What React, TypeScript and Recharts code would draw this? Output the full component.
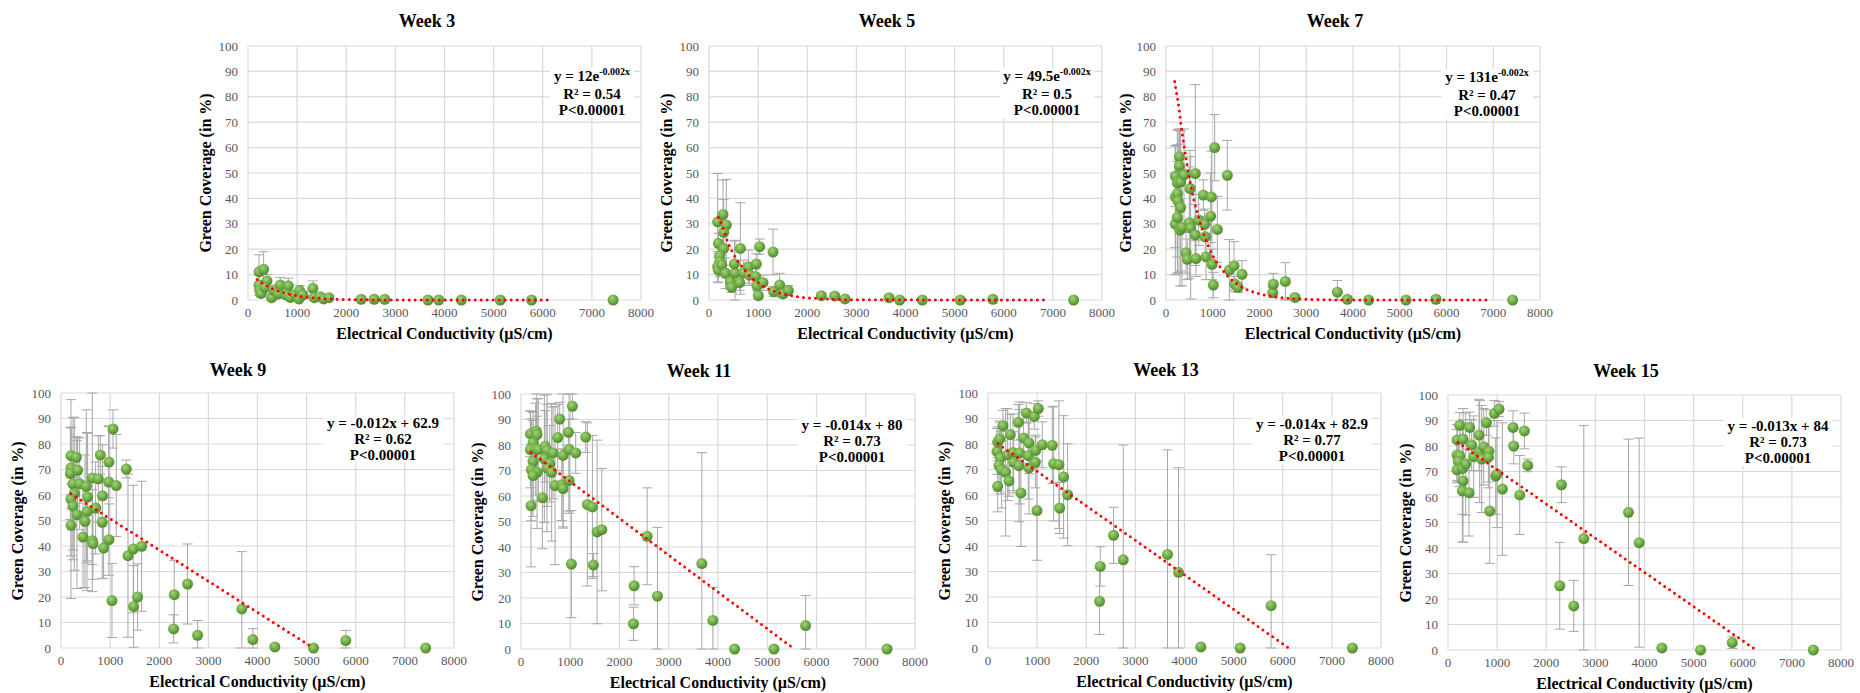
import React from 'react'
import { ScatterChart, Scatter, XAxis, YAxis, CartesianGrid, ErrorBar } from 'recharts'

// EC in µS/cm, green coverage in %, error = ± %
const w3x = [224, 318, 386, 224, 237, 264, 346, 481, 522, 657, 616, 820, 779, 860, 969, 1050, 1037, 1118, 1321, 1348, 1470, 1538, 1646, 2304, 2568, 2785, 3665, 3882, 4343, 5135, 5772, 7432]
const w3y = [11.1, 12.1, 7.5, 5.9, 3.9, 2.6, 5.0, 0.9, 3.9, 5.9, 2.4, 5.6, 2.0, 1.0, 2.2, 3.7, 0.4, 2.0, 4.6, 0.9, 1.3, 0.4, 0.9, 0.3, 0.3, 0.3, 0, 0, 0, 0, 0, 0]
const w3e = [6.7, 6.9, 2.5, 4, 2, 1.5, 2.5, 1, 1.5, 3, 1.5, 3, 1.5, 1, 1.5, 2, 0.5, 1.5, 2.9, 0.8, 1, 0.5, 0.8, 0.3, 0.3, 0.3, 0, 0, 0, 0, 0, 0]

const w5x = [176, 285, 353, 299, 190, 299, 217, 217, 176, 190, 258, 339, 434, 461, 529, 516, 638, 624, 706, 801, 828, 963, 950, 977, 1004, 1031, 1099, 1303, 1316, 1438, 1506, 1615, 2286, 2558, 2768, 3664, 3881, 4342, 5115, 5780, 7422]
const w5y = [30.8, 33.7, 29.5, 26.6, 22.3, 20.3, 17.3, 15.1, 13.1, 11.8, 13.8, 10.5, 7.2, 5.0, 10.7, 14.2, 20.3, 6.8, 10.7, 13.1, 9.8, 14.2, 9.2, 5.5, 1.7, 21.0, 6.8, 18.9, 3.3, 5.9, 2.4, 3.7, 1.7, 1.6, 0.4, 0.9, 0, 0, 0, 0.3, 0]
const w5e = [19, 13.5, 18, 13, 4, 8, 5, 6, 6, 5, 4, 6, 3, 2, 12.8, 9, 18, 3, 5, 6.5, 4, 4, 3, 2, 1, 3, 3, 9, 2, 4.6, 1.5, 2, 1, 1, 0.5, 0.8, 0, 0, 0, 0.2, 0]

const w7x = [200, 200, 200, 242, 242, 257, 242, 285, 285, 314, 314, 299, 342, 385, 428, 456, 513, 499, 528, 627, 627, 642, 699, 799, 827, 841, 856, 970, 955, 984, 1041, 1012, 1098, 1312, 1355, 1455, 1469, 1540, 1626, 2282, 2296, 2553, 2759, 3665, 3879, 4335, 5134, 5775, 7415]
const w7y = [48.8, 40.6, 29.9, 46.1, 41.9, 38.9, 32.5, 56.4, 52.8, 46.5, 36.4, 27.5, 28.6, 49.3, 18.6, 16.0, 43.9, 30.4, 28.4, 49.8, 25.6, 16.3, 31.5, 41.3, 29.8, 24.9, 17.0, 40.6, 33.0, 14.0, 60.0, 5.9, 27.8, 49.1, 11.8, 13.5, 6.3, 5.0, 10.1, 2.9, 6.2, 7.3, 1.0, 3.1, 0.3, 0, 0, 0.3, 0]
const w7e = [12, 20, 20, 15, 25, 28, 22, 11, 14, 20, 25, 22, 23, 18, 8, 8, 15, 22, 28, 35, 12, 7, 10, 6, 6, 8, 9, 18, 17, 6, 13, 5, 13, 13.7, 12, 9.5, 3, 2, 5.4, 2, 4.3, 7.4, 1, 4.6, 0.5, 0, 0, 1.2, 0]

const w9x = [203, 312, 203, 190, 244, 339, 380, 515, 271, 203, 244, 325, 203, 542, 529, 488, 447, 637, 759, 705, 637, 651, 800, 976, 969, 847, 840, 868, 976, 1058, 1125, 1037, 1329, 1363, 1471, 1478, 1559, 1641, 2305, 2292, 2576, 2780, 3681, 3905, 4353, 5139, 5797, 7424]
const w9y = [75.4, 74.8, 70.6, 68.4, 64.4, 69.7, 64.4, 63.4, 60.5, 58.4, 55.6, 52.3, 48.1, 59.2, 53.5, 49.7, 43.5, 66.7, 66.3, 54.9, 42.1, 40.9, 75.7, 72.9, 65.1, 59.7, 49.3, 39.2, 42.5, 85.9, 63.7, 18.6, 70.2, 36.2, 38.8, 16.3, 20.0, 39.9, 20.9, 7.5, 25.1, 5.0, 15.3, 3.3, 0.4, 0, 2.9, 0]
const w9e = [11, 8, 16, 18, 26, 13, 18, 30, 30, 39, 21, 29, 12, 25, 31, 26, 20, 34, 17, 18, 20, 14, 7.5, 14, 22, 20, 22, 12, 14, 7.5, 20, 14.5, 3.5, 32, 25, 16, 13, 25.5, 13.5, 5.5, 15.7, 5.8, 22.5, 4.3, 0, 0, 4, 0]

const w11x = [190, 312, 325, 244, 190, 298, 352, 488, 528, 650, 474, 244, 583, 528, 210, 325, 244, 623, 691, 827, 854, 203, 434, 786, 745, 962, 1043, 854, 976, 1111, 976, 1023, 1314, 1348, 1450, 1470, 1545, 1640, 2297, 2283, 2561, 2771, 3672, 3896, 4336, 5136, 5779, 7432]
const w11y = [84.4, 85.4, 84.1, 80.8, 78.2, 78.4, 78.2, 79.5, 77.9, 76.9, 74.6, 73.6, 72.7, 71.0, 70.3, 69.3, 68.0, 69.3, 64.1, 64.4, 62.9, 56.2, 59.3, 90.2, 82.9, 85.0, 95.2, 75.9, 78.2, 76.9, 66.1, 33.3, 83.1, 56.7, 55.7, 32.9, 45.9, 46.8, 24.8, 9.9, 44.2, 20.7, 33.5, 11.2, 0, 0, 9.2, 0]
const w11e = [9, 15, 14, 12, 15, 18, 20, 14, 22, 18, 25, 16, 15, 25, 20, 22, 16, 27, 31, 14, 15.5, 24, 20, 6.5, 13, 5, 5, 28, 25, 8, 12, 21, 6, 32, 28, 4.5, 36, 24, 7.5, 6.5, 19, 27, 43.5, 13, 0, 0, 11.8, 0]

const w13x = [197, 183, 197, 237, 305, 251, 224, 278, 359, 400, 454, 427, 508, 522, 631, 644, 617, 671, 725, 834, 820, 834, 780, 942, 1024, 969, 963, 997, 1105, 1308, 1336, 1444, 1539, 1458, 1620, 2285, 2271, 2556, 2753, 3654, 3878, 4332, 5132, 5763, 7417]
const w13y = [63.4, 77.1, 80.7, 82.0, 87.2, 74.5, 71.5, 69.9, 68.9, 75.8, 83.7, 65.5, 76.7, 72.8, 71.5, 76.5, 88.5, 60.8, 82.4, 80.4, 75.4, 70.6, 92.2, 90.8, 93.9, 77.5, 72.8, 53.9, 79.7, 79.5, 72.3, 71.9, 67.1, 54.9, 60.1, 32.0, 18.3, 44.2, 34.6, 36.7, 29.7, 0.4, 0, 16.6, 0]
const w13e = [10, 9, 6, 7, 6, 14, 10, 15, 25, 18, 8, 6, 15, 12, 22, 20, 7, 21, 10, 12, 17, 18, 4, 5, 3, 6, 10, 19.5, 9, 15, 22.5, 25, 24, 10, 20, 7.7, 13, 11, 45, 41, 41, 0, 0, 20, 0]

const w15x = [183, 238, 306, 183, 238, 211, 183, 292, 360, 306, 292, 428, 441, 482, 523, 632, 645, 727, 686, 781, 835, 822, 849, 944, 1039, 971, 998, 1107, 1324, 1338, 1555, 1460, 1623, 2309, 2275, 2560, 2764, 3674, 3891, 4353, 5141, 5786, 7436]
const w15y = [82.4, 88.1, 82.7, 76.5, 76.1, 73.9, 70.6, 71.2, 72.9, 66.3, 62.4, 61.7, 87.3, 80.4, 75.8, 84.3, 77.8, 79.7, 74.9, 89.2, 77.9, 75.6, 54.5, 92.8, 94.5, 68.2, 69.0, 63.1, 87.3, 80.0, 85.9, 60.8, 72.4, 64.8, 25.2, 17.3, 43.7, 54.0, 42.1, 0.8, 0, 2.9, 0]
const w15e = [6, 5, 12, 10, 12, 8, 5, 18, 20, 24, 20, 17, 6, 10, 16, 14, 20, 15, 21, 5, 12, 12, 20.5, 5, 3, 15, 21, 26, 6.5, 7, 7, 15.5, 2.5, 7, 17, 10, 44.3, 28.7, 41, 0, 0, 2.3, 0]

// trend lines, points
const t3x = [184, 300, 400, 500, 700, 900, 1200, 1500, 2000, 3000, 6200]
const t3y = [8.1, 6.5, 5.4, 4.4, 3.0, 2.0, 1.1, 0.6, 0.2, 0, 0]
const t5x = [190, 250, 300, 350, 400, 500, 600, 700, 800, 1000, 1200, 1500, 1800, 2200, 3000, 6900]
const t5y = [32.5, 30, 27.5, 24.5, 22, 18, 15, 12.5, 10, 6.8, 4.5, 2.5, 1.3, 0.6, 0.1, 0]
const t7x = [185, 220, 250, 280, 320, 360, 400, 450, 500, 600, 700, 800, 900, 1000, 1200, 1400, 1600, 1800, 2000, 2400, 3000, 4000, 6930]
const t7y = [86, 82, 79, 75, 69, 64, 59, 53.5, 48, 39, 32.5, 26.5, 21.5, 17.5, 12, 8, 5.3, 3.6, 2.4, 1.1, 0.3, 0, 0]
const t9x = [200, 5140]
const t9y = [60.5, 0]
const t11x = [200, 5550]
const t11y = [77.2, 0]
const t13x = [200, 6120]
const t13y = [80.1, 0]
const t15x = [200, 6270]
const t15y = [81.4, 0]

const ecTicks = [0, 1000, 2000, 3000, 4000, 5000, 6000, 7000, 8000]
const gcTicks = [0, 10, 20, 30, 40, 50, 60, 70, 80, 90, 100]

const FONT = "'Liberation Serif', 'DejaVu Serif', 'Times New Roman', Times, serif"

const toPoints = (xs: number[], ys: number[], es: number[]) =>
  xs.map((x, i) => ({ x, y: ys[i], err: [Math.min(es[i], ys[i]), Math.min(es[i], 100 - ys[i])] }))
const toLine = (xs: number[], ys: number[]) => xs.map((x, i) => ({ x, y: ys[i] }))

type Panel = {
  id: string
  title: string
  pts: { x: number; y: number; err: number[] }[]
  trend: { x: number; y: number }[]
  curve: 'monotoneX' | 'linear'
  eq: string
  sup?: string
  r2: string
  plot: [number, number, number, number] // left, top, right, bottom
  titleAt: [number, number]
  yTitleX: number
  eqAt: [number, number]
}

const panels: Panel[] = [
  { id: 'w3', title: 'Week 3', pts: toPoints(w3x, w3y, w3e), trend: toLine(t3x, t3y), curve: 'monotoneX', eq: 'y = 12e', sup: '-0.002x', r2: '0.54', plot: [248, 46, 641, 300], titleAt: [427, 21], yTitleX: 206, eqAt: [592, 77] },
  { id: 'w5', title: 'Week 5', pts: toPoints(w5x, w5y, w5e), trend: toLine(t5x, t5y), curve: 'monotoneX', eq: 'y = 49.5e', sup: '-0.002x', r2: '0.5', plot: [709, 46, 1102, 300], titleAt: [887, 21], yTitleX: 667, eqAt: [1047, 77] },
  { id: 'w7', title: 'Week 7', pts: toPoints(w7x, w7y, w7e), trend: toLine(t7x, t7y), curve: 'monotoneX', eq: 'y = 131e', sup: '-0.002x', r2: '0.47', plot: [1166, 46, 1540, 300], titleAt: [1335, 21], yTitleX: 1126, eqAt: [1487, 78] },
  { id: 'w9', title: 'Week 9', pts: toPoints(w9x, w9y, w9e), trend: toLine(t9x, t9y), curve: 'linear', eq: 'y = -0.012x + 62.9', r2: '0.62', plot: [61, 393, 454, 648], titleAt: [238, 370], yTitleX: 18, eqAt: [383, 423] },
  { id: 'w11', title: 'Week 11', pts: toPoints(w11x, w11y, w11e), trend: toLine(t11x, t11y), curve: 'linear', eq: 'y = -0.014x + 80', r2: '0.73', plot: [521, 394, 915, 649], titleAt: [699, 371], yTitleX: 478, eqAt: [852, 425] },
  { id: 'w13', title: 'Week 13', pts: toPoints(w13x, w13y, w13e), trend: toLine(t13x, t13y), curve: 'linear', eq: 'y = -0.014x + 82.9', r2: '0.77', plot: [988, 393, 1381, 648], titleAt: [1166, 370], yTitleX: 945, eqAt: [1312, 424] },
  { id: 'w15', title: 'Week 15', pts: toPoints(w15x, w15y, w15e), trend: toLine(t15x, t15y), curve: 'linear', eq: 'y = -0.013x + 84', r2: '0.73', plot: [1448, 395, 1841, 650], titleAt: [1626, 371], yTitleX: 1406, eqAt: [1778, 426] },
]

const abs = (x: number, y: number): React.CSSProperties => ({
  position: 'absolute',
  left: x,
  top: y,
  transform: 'translate(-50%, -50%)',
  whiteSpace: 'nowrap',
  fontFamily: FONT,
  fontWeight: 'bold',
  color: '#000',
})

function Week({ p }: { p: Panel }) {
  const [l, t, r, b] = p.plot
  const w = r - l
  const h = b - t
  const tick = { fontSize: 13, fill: '#595959', fontFamily: FONT }
  const dot = (props: any) => <circle cx={props.cx} cy={props.cy} r={5.5} fill={`url(#ball-${p.id})`} />
  return (
    <>
      <div style={{ position: 'absolute', left: l - 50, top: t - 10 }}>
        <ScatterChart width={w + 70} height={h + 40} margin={{ top: 10, right: 20, bottom: 0, left: 0 }}>
          <defs>
            <radialGradient id={`ball-${p.id}`} cx="40%" cy="35%" r="65%">
              <stop offset="0%" stopColor="#a3d27a" />
              <stop offset="55%" stopColor="#70ad47" />
              <stop offset="100%" stopColor="#4e8a2c" />
            </radialGradient>
          </defs>
          <CartesianGrid stroke="#d9d9d9" strokeWidth={1.2} />
          <XAxis
            dataKey="x"
            type="number"
            domain={[0, 8000]}
            ticks={ecTicks}
            interval={0}
            axisLine={false}
            tickLine={false}
            tickSize={0}
            tickMargin={8}
            height={30}
            tick={tick}
          />
          <YAxis
            dataKey="y"
            type="number"
            domain={[0, 100]}
            ticks={gcTicks}
            interval={0}
            axisLine={false}
            tickLine={false}
            tickSize={0}
            tickMargin={10}
            width={50}
            tick={tick}
          />
          <Scatter data={p.pts} fill="#70ad47" shape={dot} isAnimationActive={false}>
            <ErrorBar dataKey="err" direction="y" width={5} stroke="#a6a6a6" strokeWidth={1} />
          </Scatter>
          <Scatter
            data={p.trend}
            fill="#ff0000"
            line={{ stroke: '#ff0000', strokeWidth: 3, strokeDasharray: '0 6', strokeLinecap: 'round' }}
            lineJointType={p.curve}
            shape={() => <g />}
            isAnimationActive={false}
          />
        </ScatterChart>
      </div>
      <div style={{ ...abs(p.titleAt[0], p.titleAt[1]), fontSize: 18 }}>{p.title}</div>
      <div style={{ ...abs(p.yTitleX, (t + b) / 2), fontSize: 16, transform: 'translate(-50%, -50%) rotate(-90deg)' }}>
        Green Coverage (in %)
      </div>
      <div style={{ ...abs((l + r) / 2, b + 34), fontSize: 16 }}>Electrical Conductivity (µS/cm)</div>
      <div
        style={{
          ...abs(p.eqAt[0], p.eqAt[1] + 16),
          fontSize: 15,
          lineHeight: '16px',
          background: '#fff',
          padding: '0 4px',
          textAlign: 'center',
        }}
      >
        <div>
          {p.eq}
          {p.sup && <span style={{ fontSize: 10, position: 'relative', top: -6 }}>{p.sup}</span>}
        </div>
        <div>R² = {p.r2}</div>
        <div>P&lt;0.00001</div>
      </div>
    </>
  )
}

export default function App() {
  return (
    <div style={{ position: 'relative', width: 1860, height: 693, background: '#fff', overflow: 'hidden' }}>
      <style>{'body{margin:0}'}</style>
      {panels.map((p) => (
        <Week key={p.id} p={p} />
      ))}
    </div>
  )
}
